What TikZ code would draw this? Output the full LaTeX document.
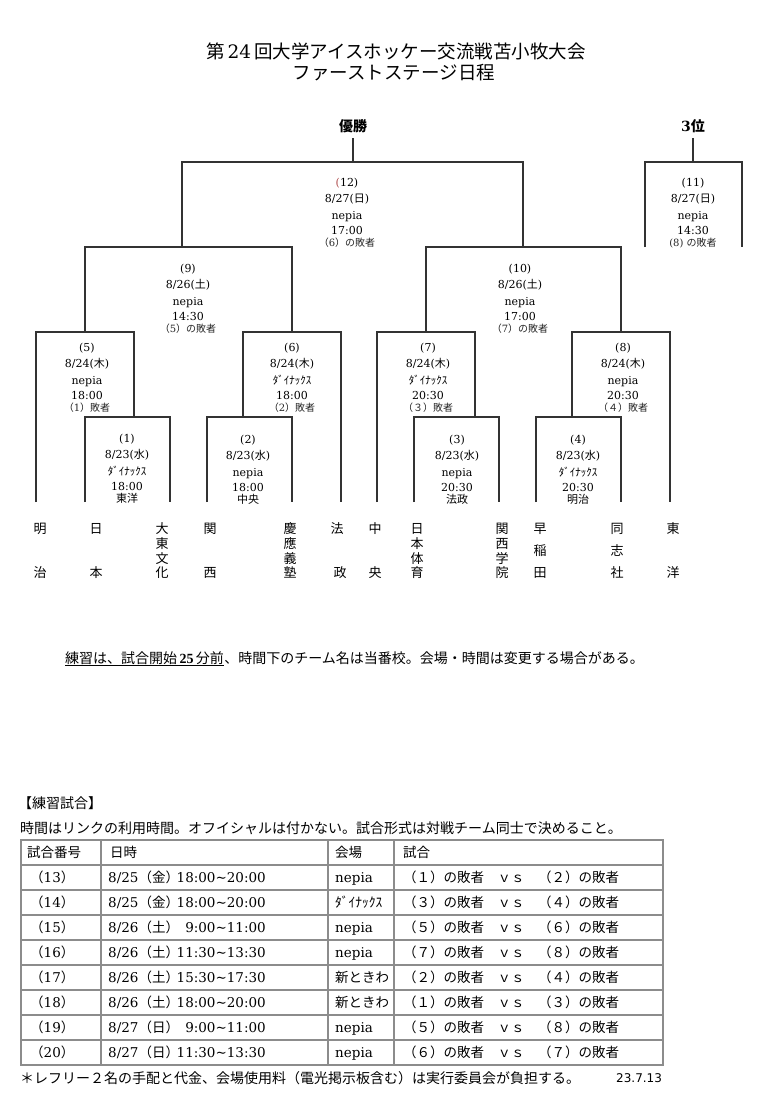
\documentclass[tikz,border=0pt]{standalone}
\usepackage{fontspec}
\setmainfont{DejaVu Serif}
\setsansfont{DejaVu Sans}
\newfontfamily\cjk{Noto Sans CJK JP}
\newfontfamily\lserif{Liberation Serif}
% automatic switching to the CJK font for Japanese characters
\XeTeXinterchartokenstate=1
\ifx\newXeTeXintercharclass\undefined \chardef\jclass=7 \else \newXeTeXintercharclass\jclass \fi
\newcount\jcnt
\def\setjrange#1#2{\jcnt=#1\relax\loop\XeTeXcharclass\jcnt=\jclass\relax\ifnum\jcnt<#2\relax\advance\jcnt by 1\relax\repeat}
\setjrange{"3000}{"30FF}
\setjrange{"4E00}{"9FFF}
\setjrange{"FF00}{"FFEF}
\XeTeXinterchartoks 0 \jclass = {\cjk}
\XeTeXinterchartoks 4095 \jclass = {\cjk}
\XeTeXinterchartoks \jclass 0 = {\rmfamily}
\XeTeXinterchartoks \jclass 4095 = {\rmfamily}

\tikzset{
  br/.style={draw=black!80, line width=1.2pt},
  tb/.style={draw=black!45, line width=1.3pt},
  bt/.style={inner sep=0pt, anchor=base, font=\fontsize{11}{13}\selectfont},
  bs/.style={inner sep=0pt, anchor=base, font=\fontsize{10}{12}\selectfont, text=black!85},
  team/.style={inner sep=0pt, anchor=base, font=\fontsize{13}{13}\selectfont},
  ttl/.style={inner sep=0pt, anchor=base, font=\fontsize{18.5}{20}\selectfont},
  hd/.style={inner sep=0pt, anchor=base, font=\fontsize{14}{16}\selectfont\bfseries},
  note/.style={inner sep=0pt, anchor=base west, font=\fontsize{14}{16}\selectfont},
  cell/.style={inner sep=0pt, anchor=base west, font=\fontsize{13.5}{15}\selectfont},
}
% bracket bar: name, x-left, x-right, y, bottom of left leg, bottom of right leg
\newcommand\mbar[6]{%
  \coordinate (#1-l) at (#2,#4);
  \coordinate (#1-r) at (#3,#4);
  \coordinate (#1-lb) at (#2,#5);
  \coordinate (#1-rb) at (#3,#6);
  \draw[br] (#1-lb) -- (#1-l) -- (#1-r) -- (#1-rb);
}
% match text: name, x, y(first line centre), 5 lines, style of last line
\newcommand\mblock[9]{%
  \node[bt] (#1-a) at (#2,#3+4.1) {#4};
  \node[bt] (#1-b) at (#2,#3+20.6) {#5};
  \node[bt] (#1-c) at (#2,#3+37.1) {#6};
  \node[bt] (#1-d) at (#2,#3+52.1) {#7};
  \node[#9] (#1-e) at (#2,#3+64.6) {#8};
}

\begin{document}
\begin{tikzpicture}[x=1pt,y=-1pt]
\useasboundingbox[fill=white] (0,0) rectangle (767,1103);

% titles
\node[ttl] (title1) at (396,58.8) {第\,24\,回大学アイスホッケー交流戦苫小牧大会};
\node[ttl] (title2) at (394,79.8) {ファーストステージ日程};

\node[hd] (yusho) at (353,131.2) {優勝};
\node[hd] (third) at (693,131.2) {3位};

% bracket
\mbar{m12}{182}{523}{162}{247}{247}
\mbar{m11}{645}{742}{162}{247}{247}
\mbar{m9}{85}{292}{247}{332}{332}
\mbar{m10}{426}{621}{247}{332}{332}
\mbar{m5}{36}{134}{332}{502}{417}
\mbar{m6}{243}{341}{332}{417}{502}
\mbar{m7}{377}{475}{332}{502}{417}
\mbar{m8}{572}{670}{332}{417}{502}
\mbar{m1}{85}{170}{417}{502}{502}
\mbar{m2}{207}{292}{417}{502}{502}
\mbar{m3}{414}{499}{417}{502}{502}
\mbar{m4}{536}{621}{417}{502}{502}
\coordinate (wintop) at (353,138);
\coordinate (thirdtop) at (693,138);
\draw[br] (wintop) -- (wintop |- m12-l);
\draw[br] (thirdtop) -- (thirdtop |- m11-l);

% match texts
\mblock{t12}{347}{182}{{\color{red!55!black!70}(}12)}{8/27(日)}{nepia}{17:00}{（6）の敗者}{bs}
\mblock{t11}{693}{182}{(11)}{8/27(日)}{nepia}{14:30}{(8) の敗者}{bs}
\mblock{t9}{188}{268}{(9)}{8/26(土)}{nepia}{14:30}{（5）の敗者}{bs}
\mblock{t10}{520}{268}{(10)}{8/26(土)}{nepia}{17:00}{（7）の敗者}{bs}
\mblock{t5}{87}{347}{(5)}{8/24(木)}{nepia}{18:00}{（1）敗者}{bs}
\mblock{t6}{292}{347}{(6)}{8/24(木)}{ﾀﾞｲﾅｯｸｽ}{18:00}{（2）敗者}{bs}
\mblock{t7}{428}{347}{(7)}{8/24(木)}{ﾀﾞｲﾅｯｸｽ}{20:30}{（３）敗者}{bs}
\mblock{t8}{623}{347}{(8)}{8/24(木)}{nepia}{20:30}{（４）敗者}{bs}
\mblock{t1}{127}{438}{(1)}{8/23(水)}{ﾀﾞｲﾅｯｸｽ}{18:00}{東洋}{bt}
\mblock{t2}{248}{439}{(2)}{8/23(水)}{nepia}{18:00}{中央}{bt}
\mblock{t3}{457}{439}{(3)}{8/23(水)}{nepia}{20:30}{法政}{bt}
\mblock{t4}{578}{439}{(4)}{8/23(水)}{ﾀﾞｲﾅｯｸｽ}{20:30}{明治}{bt}

% team names (vertical)
\node[team] (meiji1) at (40,533.8) {明};
\node[team] (meiji2) at (40,577.8) {治};
\node[team] (nihon1) at (96,533.8) {日};
\node[team] (nihon2) at (96,577.8) {本};
\node[team] (daito1) at (162,533.8) {大};
\node[team] (daito2) at (162,548.5) {東};
\node[team] (daito3) at (162,563.2) {文};
\node[team] (daito4) at (162,577.8) {化};
\node[team] (kansai1) at (210,533.8) {関};
\node[team] (kansai2) at (210,577.8) {西};
\node[team] (keio1) at (290,533.8) {慶};
\node[team] (keio2) at (290,548.5) {應};
\node[team] (keio3) at (290,563.2) {義};
\node[team] (keio4) at (290,577.8) {塾};
\node[team] (hosei1) at (337,533.8) {法};
\node[team] (hosei2) at (340,577.8) {政};
\node[team] (chuo1) at (375,533.8) {中};
\node[team] (chuo2) at (375,577.8) {央};
\node[team] (nittai1) at (417,533.8) {日};
\node[team] (nittai2) at (417,548.5) {本};
\node[team] (nittai3) at (417,563.2) {体};
\node[team] (nittai4) at (417,577.8) {育};
\node[team] (kangaku1) at (502,533.8) {関};
\node[team] (kangaku2) at (502,548.5) {西};
\node[team] (kangaku3) at (502,563.2) {学};
\node[team] (kangaku4) at (502,577.8) {院};
\node[team] (waseda1) at (540,533.8) {早};
\node[team] (waseda2) at (540,555.8) {稲};
\node[team] (waseda3) at (540,577.8) {田};
\node[team] (doshi1) at (617,533.8) {同};
\node[team] (doshi2) at (617,555.8) {志};
\node[team] (doshi3) at (617,577.8) {社};
\node[team] (toyo1) at (673,533.8) {東};
\node[team] (toyo2) at (673,577.8) {洋};

% note
\node[note] (note1) at (65,663.2) {練習は、試合開始\,{\lserif\bfseries 25}\,分前};
\node[note] (note2) at (note1.base east) {、時間下のチーム名は当番校。会場・時間は変更する場合がある。};
\draw[line width=0.9pt] ([yshift=-1.2pt]note1.south west) -- ([yshift=-1.2pt]note1.south east);

% practice games
\node[note] (prhead) at (18,808.2) {【練習試合】};
\node[note] (prtext) at (20,833.2) {時間はリンクの利用時間。オフイシャルは付かない。試合形式は対戦チーム同士で決めること。};

% table
\draw[tb] (21,840) rectangle (663,1065);
\foreach \yy in {865,890,915,940,965,990,1015,1040} \draw[tb] (21,\yy) -- (663,\yy);
\foreach \xx in {101,328,394} \draw[tb] (\xx,840) -- (\xx,1065);
\node[cell] (h1) at (27,857.5) {試合番号};
\node[cell] (h2) at (110,857.5) {日時};
\node[cell] (h3) at (335,857.5) {会場};
\node[cell] (h4) at (403,857.5) {試合};
\foreach \n/\dd/\w/\ts/\te/\v/\a/\b [count=\i] in {
  13/25/金/18:00/20:00/nepia/１/２,
  14/25/金/18:00/20:00/ﾀﾞｲﾅｯｸｽ/３/４,
  15/26/土/9:00/11:00/nepia/５/６,
  16/26/土/11:30/13:30/nepia/７/８,
  17/26/土/15:30/17:30/新ときわ/２/４,
  18/26/土/18:00/20:00/新ときわ/１/３,
  19/27/日/9:00/11:00/nepia/５/８,
  20/27/日/11:30/13:30/nepia/６/７}{
  \pgfmathsetmacro\yb{857.5+25*\i}
  \node[cell] (r\i-no) at (30,\yb) {（\n）};
  \node[cell] (r\i-date) at (108,\yb) {8/\dd（\w）};
  \node[cell, anchor=base east] (r\i-time) at (266,\yb) {\ts\textasciitilde\te};
  \node[cell] (r\i-ven) at (335,\yb) {\v};
  \node[cell] (r\i-m) at (403,\yb) {（\a）の敗者　ｖｓ　（\b）の敗者};
}

% footer
\node[note] (foot) at (20,1083.2) {＊レフリー２名の手配と代金、会場使用料（電光掲示板含む）は実行委員会が負担する。};
\node[inner sep=0pt, anchor=base west, font=\sffamily\fontsize{12}{14}\selectfont] (date) at (616,1082.5) {23.7.13};
\end{tikzpicture}
\end{document}
